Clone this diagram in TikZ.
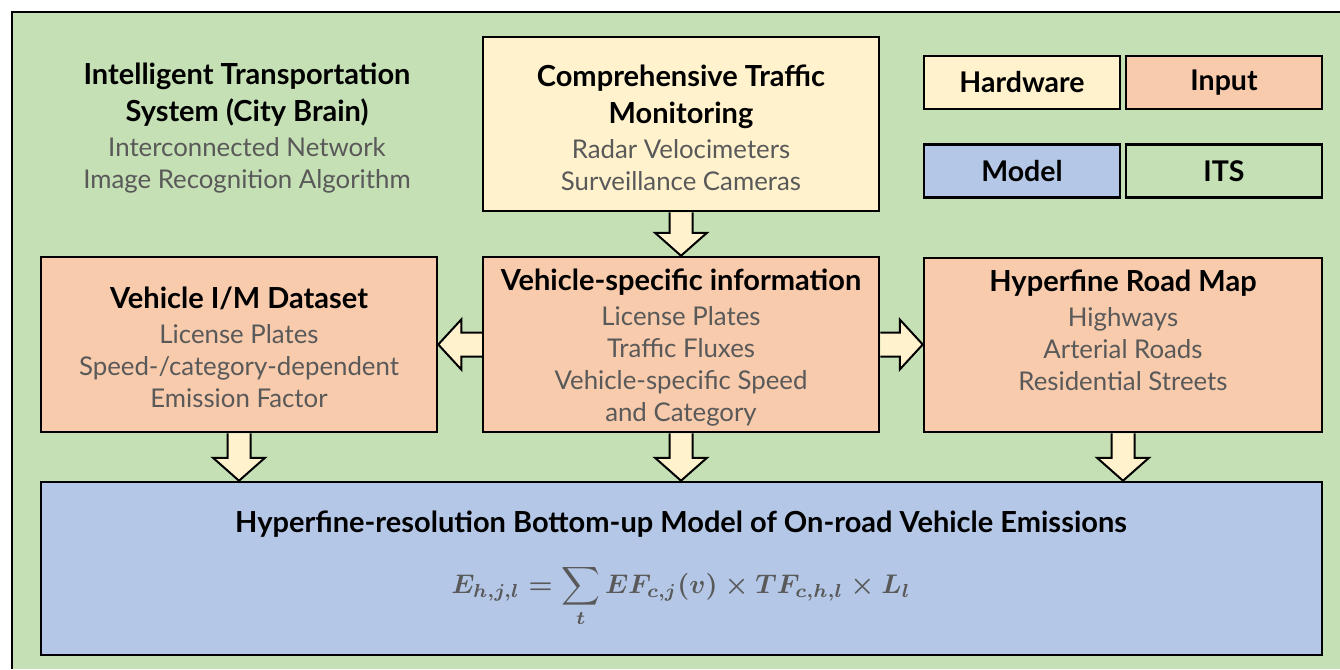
\documentclass[tikz,border=0pt]{standalone}
\usepackage{fontspec}
\setmainfont{Lato}
\usepackage{graphicx}
\usetikzlibrary{calc}
\definecolor{itsgreen}{HTML}{C5E0B4}
\definecolor{hwyellow}{HTML}{FFF2CC}
\definecolor{inorange}{HTML}{F8CBAD}
\definecolor{mdblue}{HTML}{B4C7E7}
\definecolor{txtgrey}{HTML}{595959}
\pgfdeclarelayer{bg}
\pgfsetlayers{bg,main}

% block arrows between boxes: #1 start point, #2 tip point
\newcommand\blockdown[2]{%
  \filldraw[blockarrow] let \p1=(#1), \p2=(#2) in
    (\x1-11.5pt,\y1) -- (\x1-11.5pt,\y2+23pt) -- (\x1-26pt,\y2+23pt) -- (\x1,\y2)
    -- (\x1+26pt,\y2+23pt) -- (\x1+11.5pt,\y2+23pt) -- (\x1+11.5pt,\y1);}
\newcommand\blockleft[2]{%
  \filldraw[blockarrow] let \p1=(#1), \p2=(#2) in
    (\x1,\y1+12pt) -- (\x2+23pt,\y1+12pt) -- (\x2+23pt,\y1+25pt) -- (\x2,\y1)
    -- (\x2+23pt,\y1-25pt) -- (\x2+23pt,\y1-12pt) -- (\x1,\y1-12pt);}
\newcommand\blockright[2]{%
  \filldraw[blockarrow] let \p1=(#1), \p2=(#2) in
    (\x1,\y1+12pt) -- (\x2-23pt,\y1+12pt) -- (\x2-23pt,\y1+25pt) -- (\x2,\y1)
    -- (\x2-23pt,\y1-25pt) -- (\x2-23pt,\y1-12pt) -- (\x1,\y1-12pt);}
\newcommand\ttl{\color{black}\bfseries\fontsize{29}{32}\selectfont}

\begin{document}
\begin{tikzpicture}[x=1pt,y=-1pt,
  box/.style={draw=black, line width=2.5pt, rectangle, inner sep=0pt},
  legendbox/.style={box, minimum width=196pt, minimum height=53pt,
    font=\fontsize{28.5}{32}\selectfont\bfseries},
  body/.style={align=center, text=txtgrey, inner sep=0pt,
    font=\fontsize{25.8}{32}\selectfont},
  blockarrow/.style={draw=black, line width=2pt, fill=hwyellow, line join=miter}]
\useasboundingbox (0,0) rectangle (1340,669);

% outer ITS frame, open to the right and bottom
\begin{pgfonlayer}{bg}
  \fill[white] (0,0) rectangle (1340,669);
  \fill[itsgreen] (12,12) rectangle (1340,669);
  \draw[line width=2.5pt] (12,669) -- (12,12) -- (1340,12);
\end{pgfonlayer}

% boxes
\node[box, fill=hwyellow, minimum width=396pt, minimum height=174pt] (hw) at (681,124) {};
\node[box, fill=inorange, minimum width=396pt, minimum height=175pt] (vim) at (239,344.5) {};
\node[box, fill=inorange, minimum width=396pt, minimum height=175pt] (mid) at (681,344.5) {};
\node[box, fill=inorange, minimum width=398pt, minimum height=174pt] (map) at (1123,345) {};
\node[box, fill=mdblue, minimum width=1281pt, minimum height=173pt] (model) at (681.5,568.5) {};

% legend
\node[legendbox, fill=hwyellow] (lhw) at (1022,82.5) {Hardware};
\node[legendbox, fill=inorange] (lin) at (1224,82.5) {Input};
\node[legendbox, fill=mdblue] (lmd) at (1022,171) {Model};
\node[legendbox, fill=itsgreen] (lits) at (1224,171) {ITS};

% texts
\node[body] (itst) at (247,128) {%
  {\ttl Intelligent Transportation}\\[5pt]
  {\ttl System (City Brain)}\\[3pt]
  Interconnected Network\\
  Image Recognition Algorithm};
\node[body] (hwt) at (681,128) {%
  {\ttl Comprehensive Traffic}\\[5pt]
  {\ttl Monitoring}\\[3pt]
  Radar Velocimeters\\
  Surveillance Cameras};
\node[body] (vimt) at (239,347) {%
  {\ttl Vehicle I/M Dataset}\\[3pt]
  License Plates\\
  Speed-/category-dependent\\
  Emission Factor};
\node[body] (midt) at (681,348) {%
  {\ttl Vehicle-specific information}\\[3pt]
  License Plates\\
  Traffic Fluxes\\
  Vehicle-specific Speed\\
  and Category};
\node[body] (mapt) at (1123,330) {%
  {\ttl Hyperfine Road Map}\\[3pt]
  Highways\\
  Arterial Roads\\
  Residential Streets};
\node[inner sep=0pt, font=\fontsize{29}{32}\selectfont\bfseries] (mdt) at (681,524)
  {Hyperfine-resolution Bottom-up Model of On-road Vehicle Emissions};
\node[inner sep=0pt, text=txtgrey] (eq) at (681,596)
  {\scalebox{2.69}{\boldmath$\displaystyle E_{h,j,l}=\sum_{t} EF_{c,j}(v)\times TF_{c,h,l}\times L_{l}$}};

% arrows
\begin{pgfonlayer}{bg}
  \blockdown{hw.south}{mid.north}
  \blockleft{mid.west}{vim.east}
  \blockright{mid.east}{map.west}
  \blockdown{vim.south}{vim.south |- model.north}
  \blockdown{mid.south}{mid.south |- model.north}
  \blockdown{map.south}{map.south |- model.north}
\end{pgfonlayer}
\end{tikzpicture}
\end{document}
